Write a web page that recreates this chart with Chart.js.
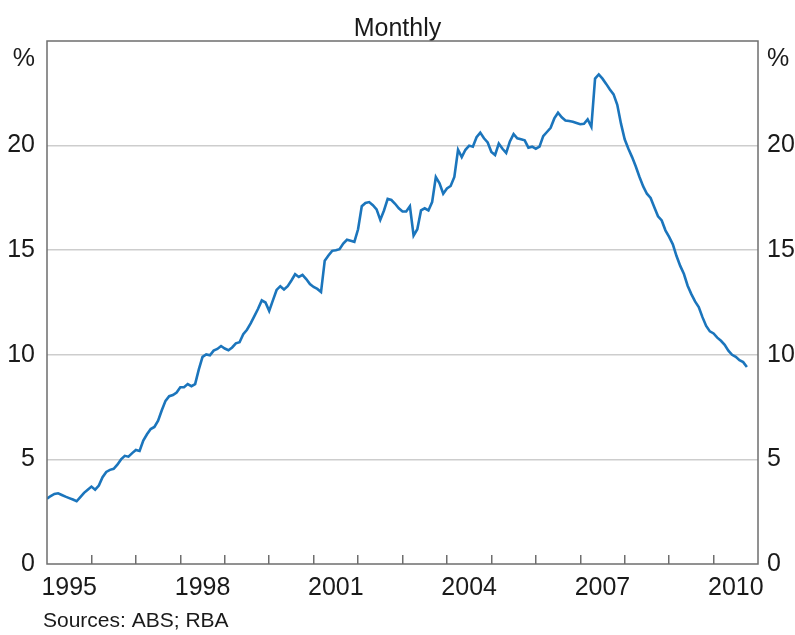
<!DOCTYPE html>
<html><head><meta charset="utf-8">
<script src="https://cdn.jsdelivr.net/npm/chart.js@4"></script>
<style>html,body{margin:0;padding:0;background:#fff}#wrap{width:795px;height:635px}</style>
</head><body><div id="wrap"><canvas id="c" width="795" height="635"></canvas></div>
<script>
const startYear = 1995;
const endYear = 2011;
const values = [
 3.12,3.25,3.35,3.38,3.30,3.22,3.15,3.08,3.00,3.20,3.40,3.55,
 3.70,3.55,3.75,4.15,4.40,4.50,4.55,4.75,5.00,5.17,5.13,5.30,
 5.45,5.40,5.90,6.20,6.45,6.55,6.85,7.35,7.80,8.02,8.08,8.20,
 8.45,8.45,8.60,8.50,8.60,9.30,9.90,10.02,9.98,10.20,10.28,10.42,
 10.30,10.22,10.35,10.55,10.60,10.98,11.20,11.50,11.85,12.20,12.60,12.50,
 12.10,12.60,13.10,13.28,13.12,13.28,13.55,13.85,13.72,13.82,13.62,13.38,
 13.24,13.15,13.00,14.50,14.75,14.97,15.00,15.05,15.32,15.50,15.45,15.40,
 16.00,17.10,17.26,17.30,17.15,16.95,16.45,16.90,17.45,17.40,17.22,17.00,
 16.85,16.85,17.10,15.70,16.00,16.90,17.00,16.90,17.30,18.50,18.20,17.70,
 17.95,18.07,18.50,19.80,19.45,19.80,20.00,19.95,20.40,20.62,20.35,20.15,
 19.70,19.55,20.10,19.85,19.65,20.20,20.55,20.35,20.30,20.25,19.90,19.95,
 19.85,19.95,20.45,20.65,20.85,21.30,21.57,21.35,21.20,21.18,21.14,21.08,
 21.02,21.04,21.25,20.90,23.20,23.40,23.20,22.95,22.68,22.45,21.95,21.05,
 20.30,19.85,19.45,19.00,18.50,18.05,17.70,17.50,17.05,16.62,16.42,15.95,
 15.64,15.28,14.72,14.25,13.86,13.30,12.90,12.55,12.28,11.80,11.38,11.12,
 11.02,10.82,10.67,10.48,10.20,10.00,9.90,9.74,9.65,9.42
];
const xLabelYears = [1995, 1998, 2001, 2004, 2007, 2010];
const yTickValues = [0, 5, 10, 15, 20];
const unitLabel = '%';
const unitTickValue = 24.15;
const titleText = 'Monthly';
const sourceText = 'Sources: ABS; RBA';

const FONT = "'Liberation Sans', Arial, sans-serif";
const TXT = '#1a1a1a';
const points = values.map((v, i) => ({ x: startYear + i / 12, y: v }));

const yTicksBuilder = s => { s.ticks = [...yTickValues, unitTickValue].map(v => ({ value: v })); };
const yLabel = v => (v === unitTickValue ? unitLabel : String(v));

const framePlugin = {
  id: 'frame',
  afterDatasetsDraw(chart) {
    const a = chart.chartArea, ctx = chart.ctx;
    ctx.save();
    ctx.strokeStyle = '#6e6e6e';
    ctx.lineWidth = 1.5;
    ctx.strokeRect(a.left, a.top, a.right - a.left, a.bottom - a.top);
    ctx.restore();
  }
};
const sourcePlugin = {
  id: 'source',
  afterDraw(chart) {
    const ctx = chart.ctx;
    ctx.save();
    ctx.font = "21px " + FONT;
    ctx.fillStyle = TXT;
    ctx.textAlign = 'left';
    ctx.textBaseline = 'middle';
    ctx.fillText(sourceText, 43, 621);
    ctx.restore();
  }
};

new Chart(document.getElementById('c'), {
  type: 'line',
  data: { datasets: [{ data: points, borderColor: '#1b75bc', borderWidth: 2.6, pointRadius: 0, tension: 0, fill: false }] },
  options: {
    responsive: false, animation: false, devicePixelRatio: 1,
    layout: { padding: 0 },
    plugins: {
      legend: { display: false }, tooltip: { enabled: false },
      title: { display: true, text: titleText, color: TXT, font: { family: FONT, size: 25, weight: 'normal', lineHeight: 0.9 }, padding: { top: 18, bottom: 0.5 } }
    },
    scales: {
      x: {
        type: 'linear', min: startYear, max: endYear,
        afterBuildTicks: s => { const t = []; for (let y = startYear; y <= endYear; y += 0.5) t.push({ value: y }); s.ticks = t; },
        ticks: { autoSkip: false, maxRotation: 0, padding: 18, color: TXT, font: { family: FONT, size: 25 },
          callback: v => { const yr = Math.floor(v); return (v - yr === 0.5 && xLabelYears.includes(yr)) ? String(yr) : ''; } },
        grid: { drawOnChartArea: false, drawTicks: true, tickLength: -9, lineWidth: 1.5,
          color: c => (c.tick && Number.isInteger(c.tick.value) && c.tick.value > startYear && c.tick.value < endYear) ? '#6e6e6e' : 'rgba(0,0,0,0)' },
        border: { display: false },
        afterFit: s => { s.height = 71; }
      },
      y: {
        position: 'left', min: 0, max: 25,
        afterBuildTicks: yTicksBuilder,
        ticks: { padding: 12, color: TXT, font: { family: FONT, size: 25 }, callback: yLabel },
        grid: { drawTicks: false, lineWidth: 1.5, color: c => (c.tick && c.tick.value > 0 && c.tick.value <= 20) ? '#cdcdcd' : 'rgba(0,0,0,0)' },
        border: { display: false },
        afterFit: s => { s.width = 47; }
      },
      y2: {
        position: 'right', min: 0, max: 25,
        afterBuildTicks: yTicksBuilder,
        ticks: { padding: 9, color: TXT, font: { family: FONT, size: 25 }, callback: yLabel },
        grid: { display: false, drawTicks: false },
        border: { display: false },
        afterFit: s => { s.width = 37; }
      }
    }
  },
  plugins: [framePlugin, sourcePlugin]
});
</script></body></html>
